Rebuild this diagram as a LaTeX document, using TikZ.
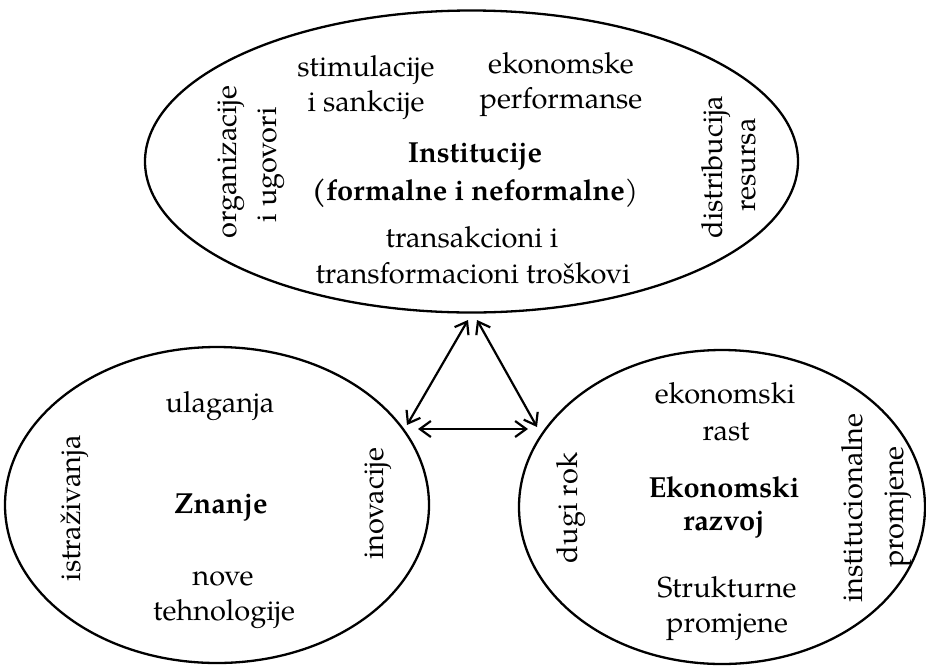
\documentclass[tikz,border=0pt]{standalone}
\usepackage{fontspec}
\setmainfont{TeX Gyre Pagella}
\usetikzlibrary{shapes.geometric,arrows.meta}
\begin{document}
\begin{tikzpicture}[x=1pt,y=-1pt,
  oval/.style={draw, ellipse, line width=2.3pt, inner sep=0pt, outer sep=0pt},
  lbl/.style={anchor=base, inner sep=0pt, font=\fontsize{29}{35}\selectfont},
  vlbl/.style={lbl, rotate=90},
  bi/.style={{Straight Barb[length=11pt,width=16pt]}-{Straight Barb[length=11pt,width=16pt]}, line width=2.2pt}]
\useasboundingbox (0,0) rectangle (926,665);
% ellipses
\node[oval, minimum width=653, minimum height=302] (inst) at (471.5,161.5) {};
\node[oval, minimum width=424, minimum height=316] (znanje) at (217,505) {};
\node[oval, minimum width=406, minimum height=314] (razvoj) at (722,507) {};
% top ellipse texts
\node[lbl] (s1) at (366,76) {stimulacije};
\node[lbl] (s2) at (366,111) {i sankcije};
\node[lbl] (e1) at (561,73) {ekonomske};
\node[lbl] (e2) at (561,108) {performanse};
\node[lbl] (i1) at (475,162) {\textbf{Institucije}};
\node[lbl] (i2) at (475,200) {\textbf{(formalne i neformalne})};
\node[lbl] (t1) at (472,247) {transakcioni i};
\node[lbl] (t2) at (473,283) {transformacioni troškovi};
\node[vlbl] (o1) at (236,162) {organizacije};
\node[vlbl] (o2) at (276,165) {i ugovori};
\node[vlbl] (d1) at (722,167) {distribucija};
\node[vlbl] (d2) at (755,165) {resursa};
% left ellipse texts
\node[lbl] (u1) at (220,412) {ulaganja};
\node[lbl] (z1) at (221,513) {\textbf{Znanje}};
\node[lbl] (n1) at (223,585) {nove};
\node[lbl] (n2) at (224,620) {tehnologije};
\node[vlbl] (is) at (80,508) {istraživanja};
\node[vlbl] (in) at (383,504) {inovacije};
% right ellipse texts
\node[lbl] (k1) at (725,403) {ekonomski};
\node[lbl] (k2) at (726,440) {rast};
\node[lbl] (r1) at (724,497) {\textbf{Ekonomski}};
\node[lbl] (r2) at (724,530) {\textbf{razvoj}};
\node[lbl] (p1) at (727,597) {Strukturne};
\node[lbl] (p2) at (727,632) {promjene};
\node[vlbl] (dr) at (577,508) {dugi rok};
\node[vlbl] (ip1) at (862,508) {institucionalne};
\node[vlbl] (ip2) at (903,507) {promjene};
% arrows
\coordinate (at1) at (468,320);
\coordinate (at2) at (477,320);
\coordinate (al1) at (407,425);
\coordinate (al2) at (418,429);
\coordinate (ar1) at (537,427);
\coordinate (ar2) at (528,429);
\draw[bi] (at1) -- (al1);
\draw[bi] (at2) -- (ar1);
\draw[bi] (al2) -- (ar2);
\end{tikzpicture}
\end{document}
